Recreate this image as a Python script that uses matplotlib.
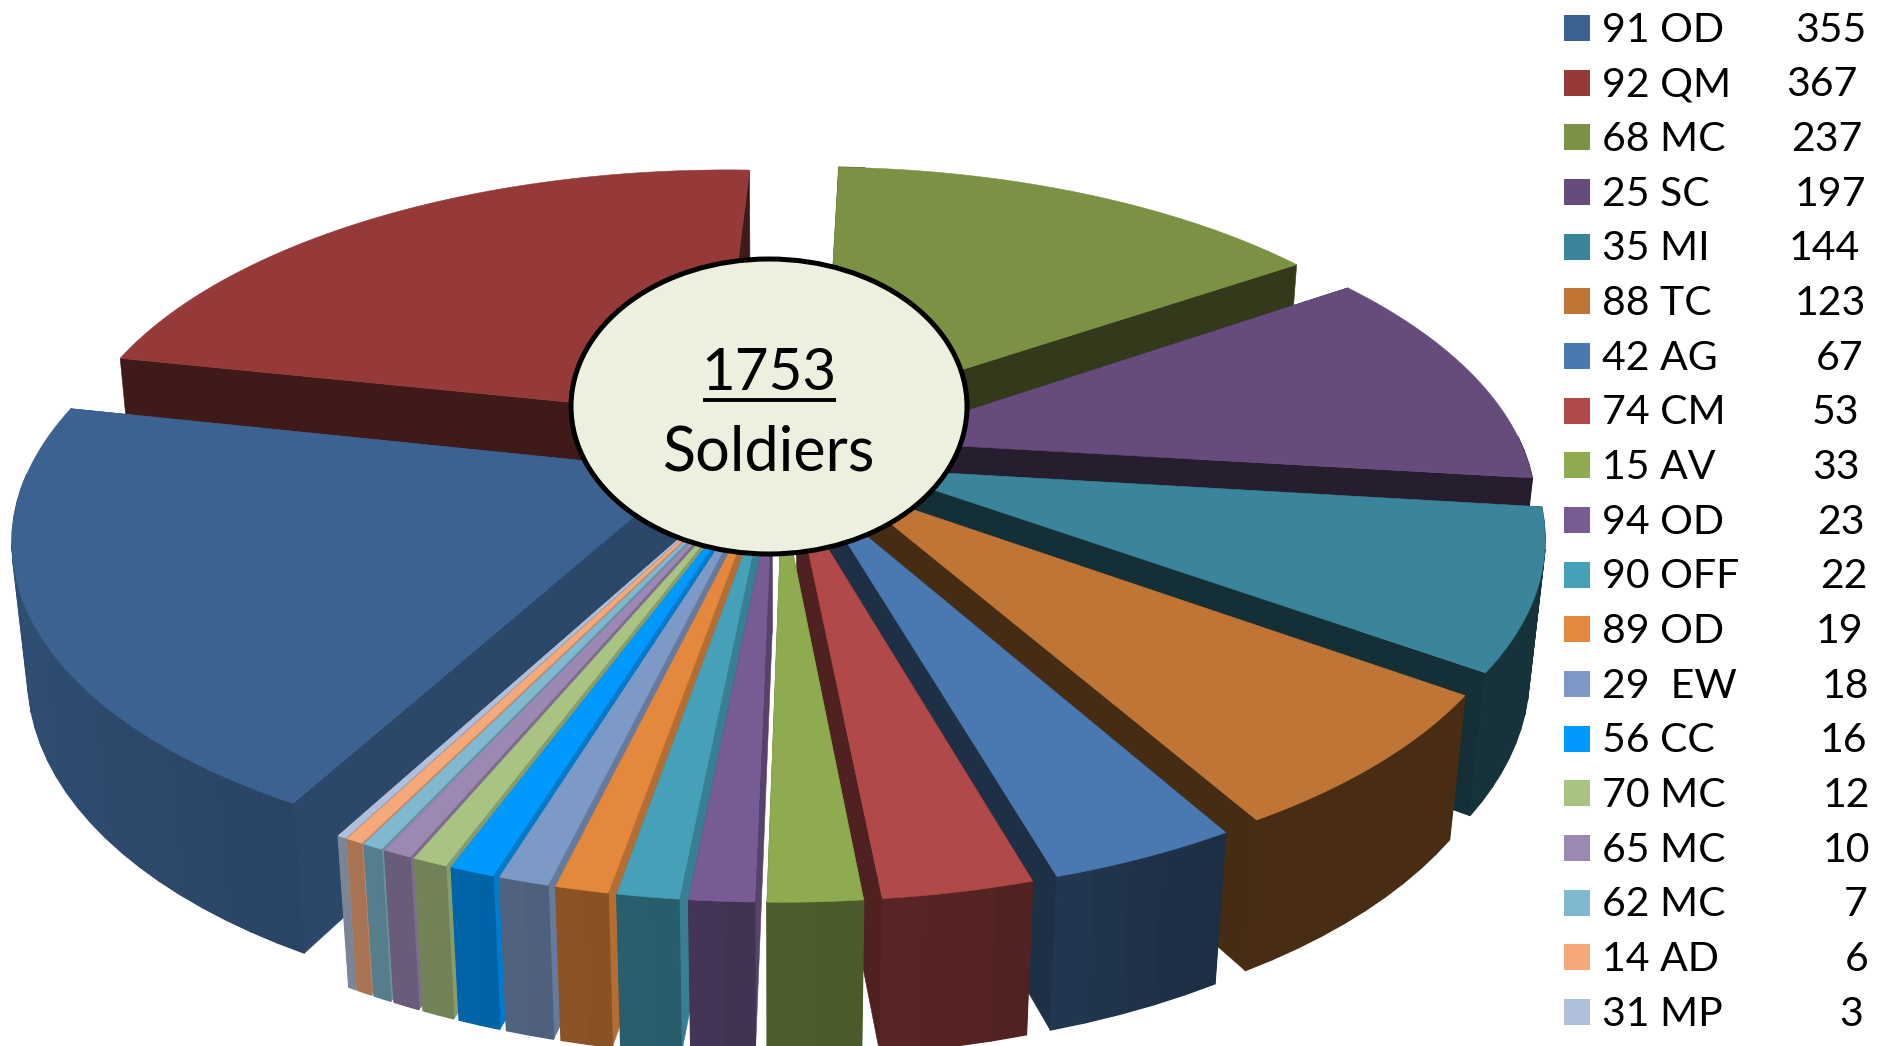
import numpy as np
import matplotlib
matplotlib.use("Agg")
import matplotlib.pyplot as plt
from matplotlib.patches import Ellipse, Polygon, Rectangle
from matplotlib.colors import to_rgb

labels = ["91 OD","92 QM","68 MC","25 SC","35 MI","88 TC","42 AG","74 CM","15 AV","94 OD",
          "90 OFF","89 OD","29  EW","56 CC","70 MC","65 MC","62 MC","14 AD","31 MP"]
values = [355,367,237,197,144,123,67,53,33,23,22,19,18,16,12,10,7,6,3]
colors = ["#3b6290","#953a39","#7b9143","#664c7c","#3a859b","#bf7535","#4a78b0","#b04947","#8fab50",
          "#775b94","#45a0b8","#e3883d","#7d99c6","#0099ff","#a9c382","#9b88b3","#7fb8cf","#f5a878","#b0c0da"]
center_total = "1753"
center_word = "Soldiers"

# layout (pixels of the 1891x1046 canvas)
value_right = np.array([1548,1540,1544,1547,1542,1547,1545,1542,1542,1546,1549,1545,1550,1548,1551,1551,1549,1549,1545])*1.206
CX, CY = 778, 452
SX, SY, SZ = 652, 306, 133
K, KZ = 0.19, 0.02
EXPLODE = 0.15
ROT = -sum(values[:2]) / sum(values) * 360

def view_angle(a):
    # small camera skew of the 3-D view, in degrees
    a = np.asarray(a, float) % 360
    return a + np.interp(a, [0,50,97,125,150,180,190,200,215,250,285,330,360],
                         [2.3,6,5.5,3.7,2.7,1.5,.9,.3,0,0,-.9,.5,2.3])

def proj(X, Y, Z):
    w = 1 + K*Y - KZ*Z
    return CX + SX*X/w, CY - SY*Y/w - SZ*Z/w

def rim_shade(a):
    return np.interp(a % 360, [0,150,172,180,190,200,215,240,275,360],
                     [.38,.38,.5,.55,.6,.66,.72,.78,.8,.8])
def cut_shade(a):
    return np.interp(a % 360, [0,120,160,178,185,215,248,330,360],
                     [.42,.35,.4,.5,.8,.8,.72,.4,.42])

fig = plt.figure(figsize=(18.91,10.46), dpi=100)
ax = fig.add_axes([0,0,1,1])
ax.set_xlim(0,1891); ax.set_ylim(1046,0); ax.axis("off")
plt.rcParams['font.family'] = ['Lato','DejaVu Sans']

def poly(X, Y, Z, col, z, lw=0.4):
    sx, sy = proj(np.asarray(X,float), np.asarray(Y,float), np.asarray(Z,float))
    ax.add_patch(Polygon(np.c_[sx,sy], closed=True, fc=col, ec=col, lw=lw, zorder=z, clip_on=True))

frac = np.array(values)/sum(values)*360
starts = ROT + np.r_[0, np.cumsum(frac)[:-1]]
mids = view_angle(starts + frac/2)
order = np.argsort(-np.cos(np.radians(mids)), kind="stable")
z = 1.0
for i in order:
    a0, a1, m = starts[i], starts[i]+frac[i], mids[i]
    ox, oy = EXPLODE*np.sin(np.radians(m)), EXPLODE*np.cos(np.radians(m))
    base = np.array(to_rgb(colors[i]))
    angs = view_angle(np.linspace(a0, a1, max(3, int(frac[i]/2.5)+1)))
    rx, ry = ox+np.sin(np.radians(angs)), oy+np.cos(np.radians(angs))
    fine = view_angle(np.linspace(a0, a1, max(4, int(frac[i]*2))))
    tx, ty = ox+np.sin(np.radians(fine)), oy+np.cos(np.radians(fine))
    for edge in (0, -1):
        poly([ox, rx[edge], rx[edge], ox], [oy, ry[edge], ry[edge], oy], [0,0,-1,-1],
             base*cut_shade(m), z); z += 0.001
    for j in range(len(angs)-1):
        am = (angs[j]+angs[j+1])/2
        if np.cos(np.radians(am)) > 0:
            continue
        poly([rx[j],rx[j+1],rx[j+1],rx[j]], [ry[j],ry[j+1],ry[j+1],ry[j]], [0,0,-1,-1],
             base*rim_shade(am), z, lw=1.0); z += 0.001
    poly(np.r_[ox, tx], np.r_[oy, ty], np.zeros(len(tx)+1), base, z); z += 0.001

ax.add_patch(Ellipse((769,406.5), 396, 295, fc="#ebf0df", ec="black", lw=3.6, zorder=50))
ax.text(769, 374, center_total, fontsize=42, ha="center", va="center", zorder=51)
ax.plot([703,836],[399.5,399.5], color="black", lw=2.8, zorder=51, solid_capstyle="butt")
ax.text(769, 453, center_word, fontsize=44, ha="center", va="center", zorder=51)

ys = 28 + 54.67*np.arange(len(labels))
for y, lab, val, col, xr in zip(ys, labels, values, colors, value_right):
    ax.add_patch(Rectangle((1564, y-13), 26, 26, fc=col, ec="none", zorder=60))
    ax.text(1602, y+2, lab, fontsize=29.5, ha="left", va="center", zorder=60)
    ax.text(xr, y+2, str(val), fontsize=29.5, ha="right", va="center", zorder=60)

fig.savefig("out.png", dpi=100)
